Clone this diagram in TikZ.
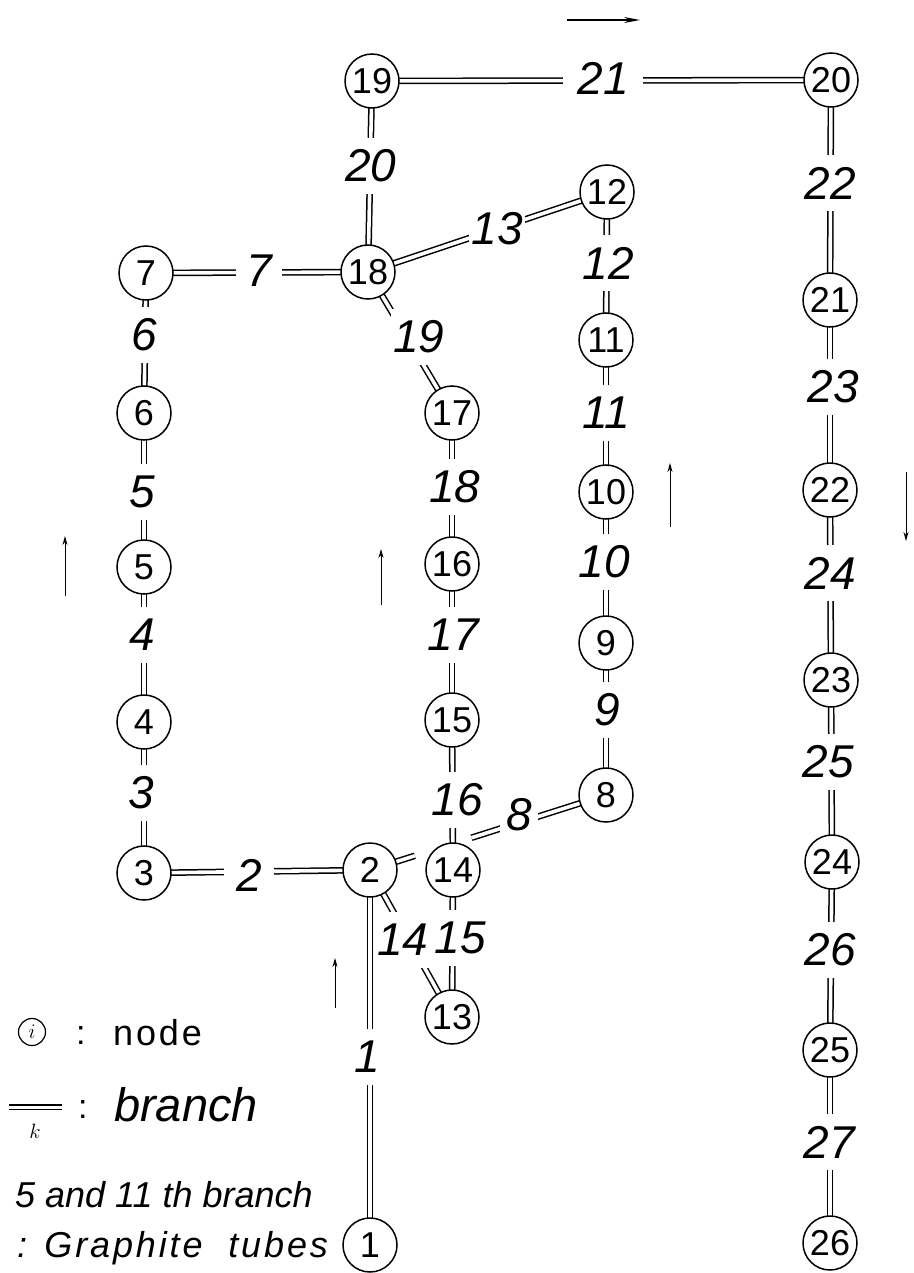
\documentclass[tikz,border=0pt]{standalone}
\usepackage{fontspec}
\setmainfont{Liberation Sans}
\newfontfamily\legendfont[LetterSpace=8]{Liberation Sans}
\newfontfamily\legendfontb[LetterSpace=8]{Liberation Sans}
\usetikzlibrary{calc,arrows.meta}
\pgfdeclarelayer{bg}
\pgfsetlayers{bg,main}
\tikzset{
  nd/.style={circle, draw, line width=1.5pt, fill=white, minimum size=54pt, inner sep=0pt,
             font=\fontsize{36}{38}\selectfont},
  br/.style={line width=1.5pt, double=white, double distance=3.6pt},
  lb/.style={fill=white, inner xsep=2pt, inner ysep=12pt,
             font=\fontsize{46}{50}\selectfont\itshape},
  flow/.style={line width=1pt, -{Stealth[length=9pt,width=5pt]}},
  flowtop/.style={line width=1.3pt, -{Stealth[length=16pt,width=6pt]}},
  legtxt/.style={anchor=base west, inner sep=0pt},
}
\begin{document}
\begin{tikzpicture}[x=1pt,y=-1pt]
\useasboundingbox (0,0) rectangle (913,1273);
% nodes
\node[nd] (n1)  at (370,1245) {1};
\node[nd] (n2)  at (370,870)  {2};
\node[nd] (n3)  at (144,873)  {3};
\node[nd] (n4)  at (144,722)  {4};
\node[nd] (n5)  at (144,567)  {5};
\node[nd] (n6)  at (144,413)  {6};
\node[nd] (n7)  at (146,273)  {7};
\node[nd] (n8)  at (606,795)  {8};
\node[nd] (n9)  at (606,643)  {9};
\node[nd] (n10) at (606,492)  {10};
\node[nd] (n11) at (606,340)  {11};
\node[nd] (n12) at (607,192)  {12};
\node[nd] (n13) at (452,1017) {13};
\node[nd] (n14) at (453,870)  {14};
\node[nd] (n15) at (452,720)  {15};
\node[nd] (n16) at (452,564)  {16};
\node[nd] (n17) at (452,413)  {17};
\node[nd] (n18) at (368,272)  {18};
\node[nd] (n19) at (372,81)   {19};
\node[nd] (n20) at (831,80)   {20};
\node[nd] (n21) at (830,300)  {21};
\node[nd] (n22) at (830,490)  {22};
\node[nd] (n23) at (831,680)  {23};
\node[nd] (n24) at (832,862)  {24};
\node[nd] (n25) at (830,1050) {25};
\node[nd] (n26) at (830,1243) {26};
% branches
\coordinate (g8a) at ($(n2)!0.19!(n8)$);
\coordinate (g8b) at ($(n2)!0.43!(n8)$);
\begin{pgfonlayer}{bg}
\draw[br] (n2.center) -- (n1.center);
\draw[br] (n3.center) -- (n2.center);
\draw[br] (n4.center) -- (n3.center);
\draw[br] (n5.center) -- (n4.center);
\draw[br] (n6.center) -- (n5.center);
\draw[br] (n7.center) -- (n6.center);
\draw[br] (n7.center) -- (n18.center);
\draw[br] (n2.center) -- (g8a);
\draw[br] (g8b) -- (n8.center);
\draw[br] (n9.center) -- (n8.center);
\draw[br] (n10.center) -- (n9.center);
\draw[br] (n11.center) -- (n10.center);
\draw[br] (n12.center) -- (n11.center);
\draw[br] (n18.center) -- (n12.center);
\draw[br] (n2.center) -- (n13.center);
\draw[br] (n14.center) -- (n13.center);
\draw[br] (n15.center) -- (n14.center);
\draw[br] (n16.center) -- (n15.center);
\draw[br] (n17.center) -- (n16.center);
\draw[br] (n18.center) -- (n17.center);
\draw[br] (n19.center) -- (n18.center);
\draw[br] (n19.center) -- (n20.center);
\draw[br] (n20.center) -- (n21.center);
\draw[br] (n21.center) -- (n22.center);
\draw[br] (n22.center) -- (n23.center);
\draw[br] (n23.center) -- (n24.center);
\draw[br] (n24.center) -- (n25.center);
\draw[br] (n25.center) -- (n26.center);
\end{pgfonlayer}
% branch labels
\node[lb] (l1)  at (367,1057) {1};
\node[lb, inner xsep=12pt] (l2) at (249,875) {2};
\node[lb] (l3)  at (141,793)  {3};
\node[lb] (l4)  at (142,635)  {4};
\node[lb] (l5)  at (142,492)  {5};
\node[lb] (l6)  at (144,335)  {6};
\node[lb, inner xsep=10pt] (l7) at (259,271) {7};
\node[lb, inner xsep=6pt] (l8) at (519,815) {8};
\node[lb] (l9)  at (607,710)  {9};
\node[lb] (l10) at (604,562)  {10};
\node[lb] (l11) at (606,413)  {11};
\node[lb] (l12) at (608,263)  {12};
\node[lb] (l13) at (497,229)  {13};
\node[lb, inner xsep=0pt] (l14) at (403,940) {14};
\node[lb, inner xsep=0pt] (l15) at (460,938) {15};
\node[lb] (l16) at (457,800)  {16};
\node[lb] (l17) at (453,635)  {17};
\node[lb] (l18) at (455,487)  {18};
\node[lb] (l19) at (419,337)  {19};
\node[lb] (l20) at (371,166)  {20};
\node[lb, inner xsep=14pt] (l21) at (603,78) {21};
\node[lb] (l22) at (830,183)  {22};
\node[lb] (l23) at (833,387)  {23};
\node[lb] (l24) at (830,573)  {24};
\node[lb] (l25) at (828,762)  {25};
\node[lb] (l26) at (830,950)  {26};
\node[lb] (l27) at (829,1142) {27};
% flow arrows
\coordinate (a1s) at (567,20);  \coordinate (a1e) at (640,20);
\coordinate (a2s) at (65,596);  \coordinate (a2e) at (65,536);
\coordinate (a3s) at (381,605); \coordinate (a3e) at (381,549);
\coordinate (a4s) at (670,527); \coordinate (a4e) at (670,463);
\coordinate (a5s) at (906,472); \coordinate (a5e) at (906,541);
\coordinate (a6s) at (335,1008);\coordinate (a6e) at (335,958);
\draw[flowtop] (a1s) -- (a1e);
\draw[flow] (a2s) -- (a2e);
\draw[flow] (a3s) -- (a3e);
\draw[flow] (a4s) -- (a4e);
\draw[flow] (a5s) -- (a5e);
\draw[flow] (a6s) -- (a6e);
% legend
\node[circle, draw, line width=1.2pt, minimum size=27pt, inner sep=0pt,
      font=\fontsize{22}{24}\selectfont] (li) at (32,1032) {$i$};
\node[legtxt, font=\fontsize{34}{36}\selectfont] (lic) at (76,1044) {:};
\node[legtxt, font=\fontsize{36}{38}\selectfont\legendfont] (lin) at (113,1045) {node};
\coordinate (lb1) at (9,1107); \coordinate (lb2) at (62,1107);
\draw[br, line width=1.3pt, double distance=3pt] (lb1) -- (lb2);
\node[inner sep=0pt, font=\fontsize{22}{24}\selectfont] (lk) at (35,1131) {$k$};
\node[legtxt, font=\fontsize{34}{36}\selectfont] (lbc) at (78,1118) {:};
\node[legtxt, font=\fontsize{47}{50}\selectfont\itshape] (lbt) at (114,1121) {branch};
\node[legtxt, font=\fontsize{36}{40}\selectfont\itshape] (lg1) at (15,1207) {5 and 11 th branch};
\node[legtxt, font=\fontsize{36}{40}\selectfont\legendfontb\itshape] (lg2) at (17,1257) {: Graphite\ \ tubes};
\end{tikzpicture}
\end{document}
